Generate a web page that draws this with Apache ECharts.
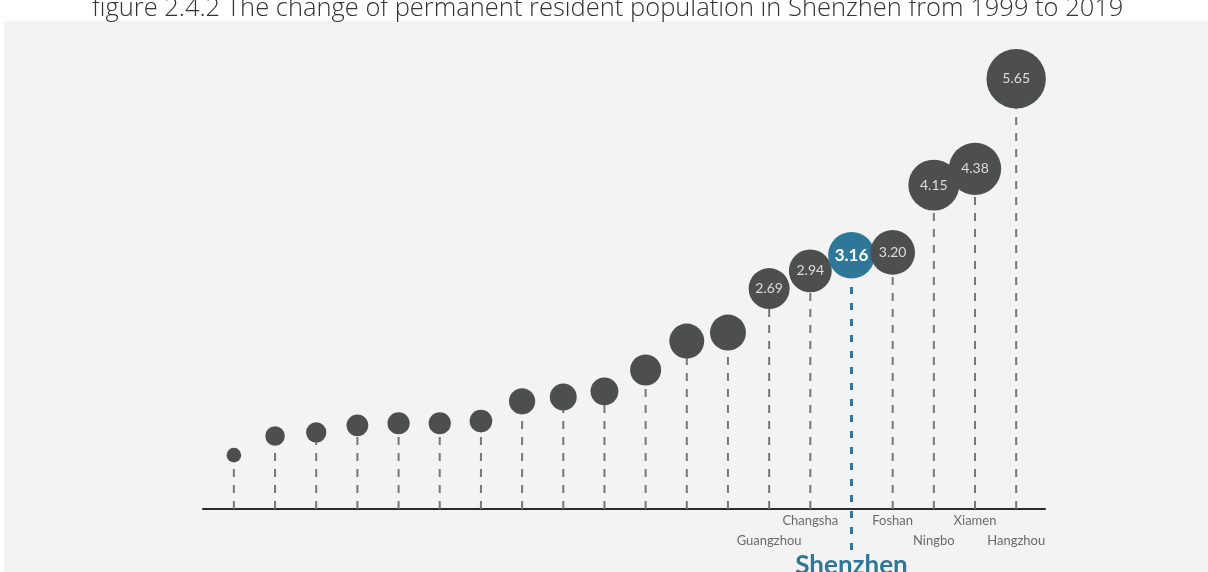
<!DOCTYPE html>
<html>
<head>
<meta charset="utf-8">
<title>Shenzhen population</title>
<script src="https://cdn.jsdelivr.net/npm/echarts@6/dist/echarts.min.js"></script>
<style>
  html, body { margin: 0; padding: 0; background: #fff; }
  #main { width: 1208px; height: 572px; }
</style>
</head>
<body>
<div id="main"></div>
<script>
// city names (only the last seven are labelled in the figure)
var cities = ['', '', '', '', '', '', '', '', '', '', '', '', '',
  'Guangzhou', 'Changsha', 'Shenzhen', 'Foshan', 'Ningbo', 'Xiamen', 'Hangzhou'];
// values (unlabelled ones are estimated)
var values = [0.34, 0.61, 0.66, 0.76, 0.79, 0.79, 0.82, 1.10, 1.16, 1.24,
  1.54, 1.95, 2.07, 2.69, 2.94, 3.16, 3.20, 4.15, 4.38, 5.65];

var titleText = 'figure 2.4.2 The change of permanent resident population in Shenzhen from 1999 to 2019';
var highlight = cities.indexOf('Shenzhen');

var GRAY = '#4d4f4f';
var BLUE = '#2e7798';
var Y_MIN = -0.42;

var chart = echarts.init(document.getElementById('main'), null, { renderer: 'canvas' });

function bubbleSize(val, params) {
  var s = 25 * Math.sqrt(val[1]);
  if (params && params.dataIndex === highlight) s = s * 1.05;
  return s;
}

// dashed stems + city names under the axis
function renderStem(params, api) {
  var i = api.value(0);
  var p = api.coord([i, api.value(1)]);
  var b = api.coord([i, Y_MIN]);
  var isHl = i === highlight;
  var children = [];
  children.push({
    type: 'line',
    shape: { x1: b[0], y1: isHl ? b[1] + 41 : b[1], x2: p[0], y2: p[1] },
    style: {
      stroke: isHl ? BLUE : '#777777',
      lineWidth: isHl ? 3 : 2,
      lineDash: isHl ? [7, 9] : [8, 8]
    }
  });
  var name = cities[i];
  if (name) {
    if (isHl) {
      children.push({
        type: 'text',
        style: {
          x: b[0], y: b[1] + 44, text: name,
          fill: BLUE, fontFamily: 'Lato', fontWeight: 'bold', fontSize: 26,
          align: 'center', verticalAlign: 'top'
        }
      });
    } else {
      children.push({
        type: 'text',
        style: {
          x: b[0], y: b[1] + (i % 2 === 0 ? 12 : 32), text: name,
          fill: '#6a6a6a', fontFamily: 'Lato', fontSize: 13,
          align: 'center', verticalAlign: 'middle'
        }
      });
    }
  }
  return { type: 'group', children: children };
}

var option = {
  backgroundColor: '#ffffff',
  animation: false,
  title: {
    text: titleText,
    left: 92,
    top: -4,
    padding: 0,
    z: 10,
    textStyle: {
      fontFamily: 'Open Sans',
      fontWeight: 300,
      fontSize: 25.5,
      color: '#333333'
    }
  },
  graphic: [{
    type: 'rect',
    z: -10,
    left: 4,
    top: 21,
    shape: { width: 1204, height: 551 },
    style: { fill: '#f3f3f3' }
  }],
  grid: { left: 203, right: 163, top: 54, bottom: 63 },
  xAxis: {
    type: 'value',
    min: -0.75,
    max: 19.7,
    axisLine: { show: true, onZero: false, lineStyle: { color: '#2b2b2b', width: 2 } },
    axisTick: { show: false },
    axisLabel: { show: false },
    splitLine: { show: false }
  },
  yAxis: {
    type: 'value',
    min: Y_MIN,
    max: 6,
    show: false
  },
  series: [{
    type: 'custom',
    z: 1,
    renderItem: renderStem,
    data: values.map(function (v, i) { return [i, v]; })
  }, {
    type: 'scatter',
    z: 2,
    symbolSize: bubbleSize,
    data: values.map(function (v, i) {
      var isHl = i === highlight;
      return {
        value: [i, v],
        itemStyle: { color: isHl ? BLUE : GRAY, opacity: 1 },
        label: {
          show: cities[i] !== '',
          position: 'inside',
          formatter: function (p) { return p.value[1].toFixed(2); },
          color: isHl ? '#ffffff' : '#dcdcdc',
          fontFamily: 'Lato',
          fontWeight: isHl ? 'bold' : 'normal',
          fontSize: isHl ? 17 : 14
        }
      };
    })
  }]
};

chart.setOption(option);
</script>
</body>
</html>
